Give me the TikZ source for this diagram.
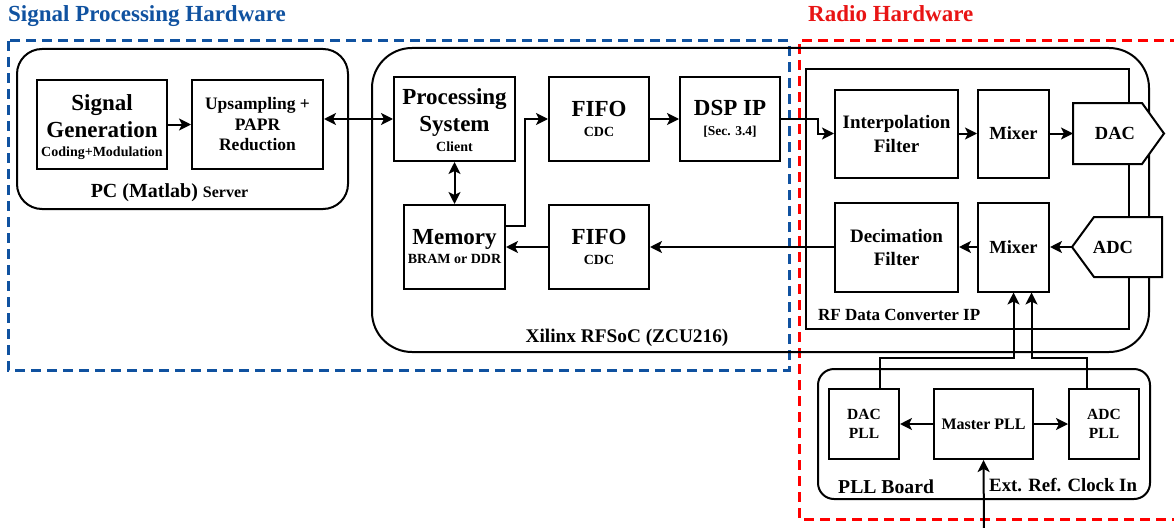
\documentclass[tikz,border=0pt]{standalone}
\usepackage{fontspec}
\setmainfont{Liberation Serif}
\usetikzlibrary{arrows.meta,calc}
\definecolor{sphblue}{RGB}{16,82,160}
\definecolor{radred}{RGB}{255,0,0}
\definecolor{titlered}{RGB}{232,20,20}
\newcommand\fsz[2]{\fontsize{#1}{#2}\selectfont\bfseries}

\begin{document}
\begin{tikzpicture}[x=1pt,y=-1pt,
  >={Stealth[length=12pt,width=12pt,inset=3pt]},
  blk/.style={draw,line width=2pt,fill=white,inner sep=0pt,align=center},
  grp/.style={draw,line width=2pt,inner sep=0pt},
  conn/.style={line width=2pt,->},
  conn2/.style={line width=2pt,<->},
  zone/.style={line width=3pt,dash pattern=on 10pt off 6pt},
  lbl/.style={inner sep=0pt}
]
\useasboundingbox (0,0) rectangle (1174,527);

% hardware zones
\draw[zone,sphblue] (8,41) rectangle (789,370);
\draw[zone,radred] (1180,41) -- (799,41) -- (799,519) -- (1180,519);
\node[lbl,anchor=base west,text=sphblue,font=\fsz{23}{27}] (t1) at (8,22) {Signal Processing Hardware};
\node[lbl,anchor=base west,text=titlered,font=\fsz{23}{27}] (t2) at (808,22) {Radio Hardware};

% enclosures
\node[grp,rounded corners=25pt,minimum width=331pt,minimum height=160pt] (pc) at (182.5,129) {};
\node[grp,rounded corners=40pt,minimum width=777pt,minimum height=304pt] (soc) at (760.5,200) {};
\node[grp,minimum width=323pt,minimum height=260pt] (rfdc) at (967.5,199) {};
\node[grp,rounded corners=16pt,minimum width=332pt,minimum height=130pt] (pllb) at (984,434) {};

\node[lbl,anchor=base] (pcl) at (169.5,197) {\fsz{20}{24}PC (Matlab) {\fsz{16}{19}Server}};
\node[lbl,anchor=base,font=\fsz{19.3}{23}] (socl) at (627,342) {Xilinx RFSoC (ZCU216)};
\node[lbl,anchor=base west,font=\fsz{17}{20}] (rfdcl) at (818,320) {RF Data Converter IP};
\node[lbl,anchor=base west,font=\fsz{19.7}{23}] (pllbl) at (838,493) {PLL Board};
\node[lbl,anchor=base west,font=\fsz{18.8}{22}] (extl) at (989,491) {Ext. Ref. Clock In};

% PC blocks
\node[blk,minimum width=130pt,minimum height=89pt,font=\fsz{23}{27}] (sig) at (102,124.5)
  {\rule{0pt}{21pt}Signal\\Generation\\[-8pt]{\fsz{14}{16}Coding+Modulation}};
\node[blk,minimum width=131pt,minimum height=89pt,font=\fsz{17.5}{20.5}] (up) at (257.5,124.5)
  {Upsampling +\\PAPR\\Reduction};

% RFSoC blocks
\node[blk,minimum width=121pt,minimum height=84pt,font=\fsz{23}{27}] (ps) at (454.5,119)
  {\rule{0pt}{19pt}Processing\\System\\[-7pt]{\fsz{14}{16}Client}};
\node[blk,minimum width=100pt,minimum height=84pt,font=\fsz{23}{20}] (fifo1) at (599,119)
  {FIFO\\{\fsz{14}{16}CDC}};
\node[blk,minimum width=100pt,minimum height=84pt,font=\fsz{23}{20}] (dsp) at (730,119)
  {DSP IP\\{\fsz{13.5}{16}[Sec. 3.4]}};
\node[blk,minimum width=101pt,minimum height=84pt,font=\fsz{23}{19}] (mem) at (454.5,247)
  {Memory\\{\fsz{14}{16}BRAM or DDR}};
\node[blk,minimum width=100pt,minimum height=84pt,font=\fsz{23}{20}] (fifo2) at (599,247)
  {FIFO\\{\fsz{14}{16}CDC}};

% RF data converter blocks
\node[blk,minimum width=123pt,minimum height=88pt,font=\fsz{19}{24}] (interp) at (896.5,133.5)
  {Interpolation\\Filter};
\node[blk,minimum width=71pt,minimum height=88pt,font=\fsz{18.5}{22}] (mix1) at (1013.5,133.5) {Mixer};
\node[blk,minimum width=123pt,minimum height=89pt,font=\fsz{19}{23}] (dec) at (896.5,247)
  {Decimation\\Filter};
\node[blk,minimum width=71pt,minimum height=89pt,font=\fsz{18.5}{22}] (mix2) at (1013.5,247) {Mixer};

% converters
\draw[line width=2pt,fill=white] (1073,103) -- (1142,103) -- (1164,133.5) -- (1142,164) -- (1073,164) -- cycle;
\node[lbl,font=\fsz{18.5}{22}] (dac) at (1115,133.5) {DAC};
\coordinate (dacin) at (1073,133.5);
\draw[line width=2pt,fill=white] (1072,247) -- (1094,217) -- (1162,217) -- (1162,277) -- (1094,277) -- cycle;
\node[lbl,font=\fsz{18.5}{22}] (adc) at (1113,247) {ADC};
\coordinate (adcout) at (1072,247);

% PLL board blocks
\node[blk,minimum width=70pt,minimum height=70pt,font=\fsz{15.5}{19}] (dacpll) at (864,424) {DAC\\PLL};
\node[blk,minimum width=99pt,minimum height=70pt,font=\fsz{16}{19}] (master) at (983.5,424) {Master PLL};
\node[blk,minimum width=70pt,minimum height=70pt,font=\fsz{15.5}{19}] (adcpll) at (1104,424) {ADC\\PLL};
\coordinate (clk) at (984,532);

% connections
\draw[conn] (sig.east) -- (up.west);
\draw[conn2] (up.east |- ps.west) -- (ps.west);
\draw[conn2] (ps.south) -- (mem.north);
\draw[conn] ([yshift=21pt]mem.east) -| ([xshift=-23pt]fifo1.west) -- (fifo1.west);
\draw[conn] (fifo1.east) -- (dsp.west);
\draw[conn] (dsp.east) -| ([xshift=-16pt]interp.west) -- (interp.west);
\draw[conn] (interp.east) -- (mix1.west);
\draw[conn] (mix1.east) -- (dacin);
\draw[conn] (adcout) -- (mix2.east);
\draw[conn] (mix2.west) -- (dec.east);
\draw[conn] (dec.west) -- (fifo2.east);
\draw[conn] (fifo2.west) -- (mem.east);
\draw[conn] (master.west) -- (dacpll.east);
\draw[conn] (master.east) -- (adcpll.west);
\draw[conn] (clk) -- (master.south);
\draw[conn] ([xshift=16pt]dacpll.north) -- ++(0,-30) -| (mix2.south);
\draw[conn] ([xshift=-17pt]adcpll.north) -- ++(0,-30) -| ([xshift=18pt]mix2.south);
\end{tikzpicture}
\end{document}
